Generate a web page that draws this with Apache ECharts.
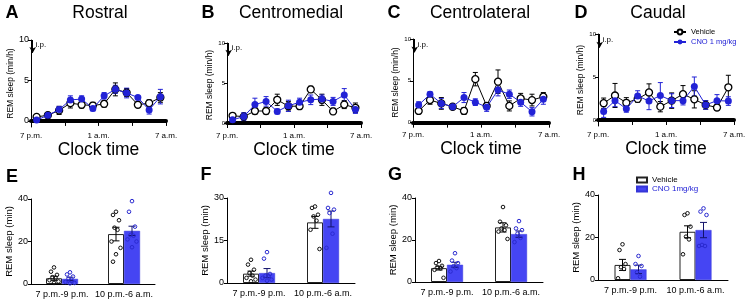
<!DOCTYPE html>
<html>
<head>
<meta charset="utf-8">
<script src="https://cdn.jsdelivr.net/npm/echarts@6/dist/echarts.min.js"></script>
<style>
html, body { margin: 0; padding: 0; background: #fff; }
#main { width: 747px; height: 303px; }
</style>
</head>
<body>
<div id="main"></div>
<script>
// hour bins (hours after 7 p.m.)
var hours = [0.5, 1.5, 2.5, 3.5, 4.5, 5.5, 6.5, 7.5, 8.5, 9.5, 10.5, 11.5];
var hourLabels = {0: "7 p.m.", 6: "1 a.m.", 12: "7 a.m."};
var regions = ["Rostral", "Centromedial", "Centrolateral", "Caudal"];
var periods = ["7 p.m.-9 p.m.", "10 p.m.-6 a.m."];

// hourly REM sleep (min/h), mean and sem
var rosVeh = [0.5, 0.7, 1.3, 2.2, 2.0, 1.9, 2.1, 3.9, 3.5, 2.0, 2.2, 2.9];
var rosVehErr = [0.2, 0.3, 0.5, 0.6, 0.4, 0.4, 0.4, 0.8, 0.5, 0.3, 0.4, 0.6];
var rosCno = [0.1, 0.7, 1.4, 2.6, 2.7, 1.55, 3.1, 3.9, 3.45, 2.9, 1.35, 3.0];
var rosCnoErr = [0.2, 0.3, 0.4, 0.5, 0.4, 0.3, 0.4, 0.5, 0.6, 0.2, 0.5, 0.9];

var cmVeh = [0.9, 0.8, 1.5, 1.5, 2.9, 2.1, 2.1, 4.2, 2.9, 1.45, 2.3, 1.9];
var cmVehErr = [0.2, 0.2, 0.4, 0.4, 0.7, 0.6, 0.4, 0.4, 0.7, 0.4, 0.5, 0.6];
var cmCno = [0.4, 0.8, 2.3, 2.7, 1.45, 2.15, 2.6, 2.9, 3.0, 2.7, 3.5, 1.7];
var cmCnoErr = [0.2, 0.5, 0.8, 0.6, 0.3, 0.7, 0.5, 0.6, 0.5, 0.5, 0.8, 0.5];

var clVeh = [1.4, 2.7, 2.3, 1.9, 1.4, 5.2, 2.0, 4.9, 2.0, 2.9, 2.7, 3.1];
var clVehErr = [0.3, 0.5, 0.7, 0.3, 0.4, 0.8, 0.4, 1.4, 0.6, 0.6, 0.7, 0.5];
var clCno = [2.1, 3.4, 2.3, 1.9, 3.0, 2.45, 1.85, 3.9, 3.4, 2.45, 1.3, 2.8];
var clCnoErr = [0.4, 0.3, 0.6, 0.3, 0.6, 0.4, 0.5, 0.7, 0.5, 0.5, 0.5, 0.6];

var caVeh = [1.95, 2.85, 2.0, 2.45, 3.2, 1.55, 2.25, 3.0, 2.4, 1.75, 1.45, 3.8];
var caVehErr = [0.6, 1.4, 0.6, 0.4, 1.0, 0.6, 0.9, 1.0, 1.0, 0.5, 0.3, 1.4];
var caCno = [1.0, 2.25, 1.3, 2.8, 2.2, 2.85, 2.25, 2.25, 3.9, 1.75, 2.25, 2.2];
var caCnoErr = [0.7, 0.7, 0.4, 0.6, 1.0, 1.5, 0.8, 0.5, 1.1, 0.5, 0.7, 0.5];

// period totals (min), mean / sem / single animals
var rosBarVeh = [2.7, 23.5], rosBarVehErr = [1.0, 3.2];
var rosBarCno = [2.4, 25.0], rosBarCnoErr = [0.8, 2.2];
var rosDotsVeh = [[7.8, 5.8, 4.3, 3.2, 2.8, 1.8, 1.2, 0.5], [34, 32.5, 30, 26.5, 25.5, 20, 17, 14, 10.5]];
var rosDotsCno = [[5.5, 4.5, 3.5, 2.5, 1.5, 1.0, 0.5, 0.3], [39, 34, 27, 23, 22.7, 21, 20, 17.3]];

var cmBarVeh = [3.3, 21.4], cmBarVehErr = [0.9, 2.1];
var cmBarCno = [3.5, 22.6], cmBarCnoErr = [1.6, 2.8];
var cmDotsVeh = [[8.2, 6.5, 4.7, 3.5, 2.6, 1.8, 1.2, 0.6], [27, 26.5, 24.1, 23.5, 22, 18.8, 12]];
var cmDotsCno = [[10.9, 8.6, 3.2, 2.6, 2.4, 1.8, 1.2, 0.8], [31.8, 26.5, 25.9, 24.7, 17.4, 12.4]];

var clBarVeh = [6.6, 26.0], clBarVehErr = [0.9, 2.2];
var clBarCno = [8.2, 22.8], clBarCnoErr = [1.2, 1.5];
var clDotsVeh = [[10, 9, 7.7, 7, 6.5, 5.8, 2], [35.7, 28.7, 27, 25.5, 24.7, 24, 20.5]];
var clDotsCno = [[13.7, 10.2, 9, 7.5, 6.6, 5], [29, 25.5, 24.7, 23, 21, 19]];

var caBarVeh = [7.1, 22.7], caBarVehErr = [2.6, 2.8];
var caBarCno = [5.0, 23.5], caBarCnoErr = [2.0, 3.6];
var caDotsVeh = [[16.8, 14.1, 7.5, 6, 5.2, 0.8], [31.4, 30.6, 25.1, 20.4, 19.1, 12.1]];
var caDotsCno = [[11.3, 7.5, 6.6, 3.6, 1.6], [33.7, 32.2, 30.6, 16.5, 16, 16]];

var FONT = '"Liberation Sans", Arial, sans-serif';
var BLUE = "#2222d6";
var BAR_BLUE = "#4545f3";
var JIT = [0, -3, 3, -1.5, 1.5, -4.5, 4.5, 0, -3, 3];

var topSets = [
	{veh: rosVeh, vehErr: rosVehErr, cno: rosCno, cnoErr: rosCnoErr},
	{veh: cmVeh, vehErr: cmVehErr, cno: cmCno, cnoErr: cmCnoErr},
	{veh: clVeh, vehErr: clVehErr, cno: clCno, cnoErr: clCnoErr},
	{veh: caVeh, vehErr: caVehErr, cno: caCno, cnoErr: caCnoErr}
];
var botSets = [
	{veh: rosBarVeh, vehErr: rosBarVehErr, cno: rosBarCno, cnoErr: rosBarCnoErr, dVeh: rosDotsVeh, dCno: rosDotsCno},
	{veh: cmBarVeh, vehErr: cmBarVehErr, cno: cmBarCno, cnoErr: cmBarCnoErr, dVeh: cmDotsVeh, dCno: cmDotsCno},
	{veh: clBarVeh, vehErr: clBarVehErr, cno: clBarCno, cnoErr: clBarCnoErr, dVeh: clDotsVeh, dCno: clDotsCno},
	{veh: caBarVeh, vehErr: caBarVehErr, cno: caBarCno, cnoErr: caBarCnoErr, dVeh: caDotsVeh, dCno: caDotsCno}
];

// layout of the panels
var topGrids = [
	{left: 31, top: 40, width: 135, height: 87, ymin: -0.75, tickFont: 9, nameGap: 13, letter: "A", lx: 12, tx: 100},
	{left: 227, top: 43, width: 134, height: 84, ymin: -0.5, tickFont: 6, nameGap: 11, letter: "B", lx: 208, tx: 291},
	{left: 413, top: 39, width: 136, height: 87, ymin: -0.4, tickFont: 6, nameGap: 11, letter: "C", lx: 394, tx: 480},
	{left: 598, top: 34, width: 136, height: 92, ymin: -0.7, tickFont: 6, nameGap: 11, letter: "D", lx: 581, tx: 658}
];
var botGrids = [
	{left: 31, top: 199, width: 124, height: 85, max: 40, interval: 20, letter: "E", lx: 12, ly: 177},
	{left: 227, top: 198, width: 128, height: 85, max: 30, interval: 15, letter: "F", lx: 206, ly: 175},
	{left: 415, top: 198, width: 128, height: 84, max: 40, interval: 20, letter: "G", lx: 395, ly: 175},
	{left: 598, top: 195, width: 130, height: 85, max: 40, interval: 20, letter: "H", lx: 579, ly: 175}
];

function lineErrItem(params, api) {
	var x = api.value(0), y = api.value(1), e = api.value(2),
		hi = api.coord([x, y + e]),
		lo = api.coord([x, y - e]),
		st = {stroke: api.visual("color"), lineWidth: 1};
	return {
		type: "group",
		children: [
			{type: "line", shape: {x1: hi[0], y1: hi[1], x2: lo[0], y2: lo[1]}, style: st},
			{type: "line", shape: {x1: hi[0] - 2.5, y1: hi[1], x2: hi[0] + 2.5, y2: hi[1]}, style: st},
			{type: "line", shape: {x1: lo[0] - 2.5, y1: lo[1], x2: lo[0] + 2.5, y2: lo[1]}, style: st}
		]
	};
}

function barErrItem(barW) {
	return function(params, api) {
		var x = api.value(0), y = api.value(1), e = api.value(2), side = api.value(3),
			hi = api.coord([x, y + e]),
			lo = api.coord([x, y - e]),
			cx = hi[0] + side * barW / 2,
			st = {stroke: api.visual("color"), lineWidth: 1};
		return {
			type: "group",
			children: [
				{type: "line", shape: {x1: cx, y1: hi[1], x2: cx, y2: lo[1]}, style: st},
				{type: "line", shape: {x1: cx - 3.5, y1: hi[1], x2: cx + 3.5, y2: hi[1]}, style: st},
				{type: "line", shape: {x1: cx - 3.5, y1: lo[1], x2: cx + 3.5, y2: lo[1]}, style: st}
			]
		};
	};
}

function dotItem(barW) {
	return function(params, api) {
		var p = api.coord([api.value(0), api.value(1)]),
			cx = p[0] + api.value(2) * barW / 2 + JIT[api.value(3) % JIT.length];
		return {
			type: "circle",
			shape: {cx: cx, cy: p[1], r: 1.8},
			style: {fill: "none", stroke: api.visual("color"), lineWidth: 1}
		};
	};
}

var opt = {
	animation: false,
	backgroundColor: "#fff",
	textStyle: {fontFamily: FONT},
	grid: [],
	xAxis: [],
	yAxis: [],
	series: [],
	graphic: [],
	legend: [
		{
			left: 668, top: 23, orient: "vertical",
			itemWidth: 12, itemHeight: 6, itemGap: 2,
			textStyle: {fontSize: 7.5, fontFamily: FONT},
			data: [
				{name: "Vehicle", textStyle: {color: "#000"}},
				{name: "CNO 1 mg/kg", textStyle: {color: BLUE}}
			]
		},
		{
			left: 631, top: 171, orient: "vertical",
			itemWidth: 10, itemHeight: 5, itemGap: 1,
			textStyle: {fontSize: 8, fontFamily: FONT},
			data: [
				{name: "Vehicle ", icon: "rect", textStyle: {color: "#000"}},
				{name: "CNO 1mg/kg", icon: "rect", textStyle: {color: BLUE}}
			]
		}
	]
};

// top row: hourly time course
topGrids.forEach(function(g, i) {
	var d = topSets[i],
		gi = opt.grid.length,
		xi = opt.xAxis.length,
		yi = opt.yAxis.length;

	opt.grid.push({left: g.left, top: g.top, width: g.width, height: g.height, outerBoundsMode: "none"});
	opt.xAxis.push({
		type: "value", gridIndex: gi, min: 0, max: 12, interval: 3,
		name: "Clock time", nameLocation: "middle", nameGap: 11,
		nameTextStyle: {fontSize: 17.5, color: "#000"},
		axisLine: {lineStyle: {color: "#000", width: 4}},
		axisTick: {length: 5, lineStyle: {color: "#000", width: 1}},
		axisLabel: {
			fontSize: 8, color: "#000", margin: 5, showMinLabel: true, showMaxLabel: true,
			formatter: function(v) { return hourLabels[v] || ""; }
		},
		splitLine: {show: false}
	});
	opt.yAxis.push({
		type: "value", gridIndex: gi, min: g.ymin, max: 10,
		name: "REM sleep (min/h)", nameLocation: "middle", nameGap: g.nameGap,
		nameTextStyle: {fontSize: 8.5, color: "#000"},
		axisLine: {show: true, lineStyle: {color: "#000", width: 1}},
		axisTick: {show: true, length: 3, customValues: [0, 5, 10], lineStyle: {color: "#000"}},
		axisLabel: {fontSize: g.tickFont, color: "#000", margin: 2, customValues: [0, 5, 10]},
		splitLine: {show: false}
	});

	opt.series.push({
		type: "custom", xAxisIndex: xi, yAxisIndex: yi, z: 1,
		itemStyle: {color: "#000"}, renderItem: lineErrItem,
		data: hours.map(function(h, k) { return [h, d.veh[k], d.vehErr[k]]; })
	});
	opt.series.push({
		type: "custom", xAxisIndex: xi, yAxisIndex: yi, z: 1,
		itemStyle: {color: BLUE}, renderItem: lineErrItem,
		data: hours.map(function(h, k) { return [h, d.cno[k], d.cnoErr[k]]; })
	});
	opt.series.push({
		name: "Vehicle", type: "line", xAxisIndex: xi, yAxisIndex: yi, z: 3,
		symbol: "circle", symbolSize: 7,
		itemStyle: {color: "#fff", borderColor: "#000", borderWidth: 1.3},
		lineStyle: {color: "#000", width: 1},
		data: hours.map(function(h, k) { return [h, d.veh[k]]; }),
		markLine: {
			silent: true, symbol: ["none", "arrow"], symbolSize: [5, 6],
			lineStyle: {color: "#000", width: 1, type: "solid"},
			label: {show: false},
			data: [[{coord: [0.15, 10]}, {coord: [0.15, 8.4]}]]
		},
		markPoint: {
			silent: true, symbol: "circle", symbolSize: 0.1,
			itemStyle: {color: "rgba(0,0,0,0)"},
			label: {show: true, position: "right", distance: 0, formatter: "i.p.", fontSize: 8, color: "#000"},
			data: [{coord: [0.4, 9.35]}]
		}
	});
	opt.series.push({
		name: "CNO 1 mg/kg", type: "line", xAxisIndex: xi, yAxisIndex: yi, z: 4,
		symbol: "circle", symbolSize: 7,
		itemStyle: {color: BLUE},
		lineStyle: {color: BLUE, width: 1},
		data: hours.map(function(h, k) { return [h, d.cno[k]]; })
	});

	opt.graphic.push({
		type: "text", x: g.lx, y: 13,
		style: {text: g.letter, font: "bold 18px " + FONT, fill: "#000", align: "center", verticalAlign: "middle"}
	});
	opt.graphic.push({
		type: "text", x: g.tx, y: 13,
		style: {text: regions[i], font: "17.5px " + FONT, fill: "#000", align: "center", verticalAlign: "middle"}
	});
});

// bottom row: period totals
botGrids.forEach(function(g, i) {
	var d = botSets[i],
		gi = opt.grid.length,
		ci = opt.xAxis.length,
		vi = ci + 1,
		yi = opt.yAxis.length,
		barW = 16;

	opt.grid.push({left: g.left, top: g.top, width: g.width, height: g.height, outerBoundsMode: "none"});
	opt.xAxis.push({
		type: "category", gridIndex: gi, data: periods,
		axisLine: {lineStyle: {color: "#000", width: 1}},
		axisTick: {alignWithLabel: true, length: 3, lineStyle: {color: "#000"}},
		axisLabel: {fontSize: 9, color: "#000", margin: 6, interval: 0}
	});
	opt.xAxis.push({type: "value", gridIndex: gi, min: 0, max: 2, show: false});
	opt.yAxis.push({
		type: "value", gridIndex: gi, min: 0, max: g.max, interval: g.interval,
		name: "REM sleep (min)", nameLocation: "middle", nameGap: 16,
		nameTextStyle: {fontSize: 9.5, color: "#000"},
		axisLine: {show: true, lineStyle: {color: "#000", width: 1}},
		axisTick: {show: true, length: 3, lineStyle: {color: "#000"}},
		axisLabel: {fontSize: 9, color: "#000", margin: 3},
		splitLine: {show: false}
	});

	opt.series.push({
		name: "Vehicle ", type: "bar", xAxisIndex: ci, yAxisIndex: yi,
		barWidth: barW, barGap: "0%",
		itemStyle: {color: "#fff", borderColor: "#222", borderWidth: 1},
		data: d.veh
	});
	opt.series.push({
		name: "CNO 1mg/kg", type: "bar", xAxisIndex: ci, yAxisIndex: yi,
		barWidth: barW, barGap: "0%",
		itemStyle: {color: BAR_BLUE, borderColor: "#3535d8", borderWidth: 0.5},
		data: d.cno
	});

	var dotsV = [], dotsC = [];
	d.dVeh.forEach(function(list, c) {
		list.forEach(function(v, k) { dotsV.push([c + 0.5, v, -1, k]); });
	});
	d.dCno.forEach(function(list, c) {
		list.forEach(function(v, k) { dotsC.push([c + 0.5, v, 1, k]); });
	});

	opt.series.push({
		type: "custom", xAxisIndex: vi, yAxisIndex: yi, z: 5,
		itemStyle: {color: "#000"}, renderItem: barErrItem(barW),
		data: d.veh.map(function(v, c) { return [c + 0.5, v, d.vehErr[c], -1]; })
	});
	opt.series.push({
		type: "custom", xAxisIndex: vi, yAxisIndex: yi, z: 5,
		itemStyle: {color: "#12126a"}, renderItem: barErrItem(barW),
		data: d.cno.map(function(v, c) { return [c + 0.5, v, d.cnoErr[c], 1]; })
	});
	opt.series.push({
		type: "custom", xAxisIndex: vi, yAxisIndex: yi, z: 6,
		itemStyle: {color: "#111"}, renderItem: dotItem(barW),
		data: dotsV
	});
	opt.series.push({
		type: "custom", xAxisIndex: vi, yAxisIndex: yi, z: 6,
		itemStyle: {color: "#2a2ad0"}, renderItem: dotItem(barW),
		data: dotsC
	});

	opt.graphic.push({
		type: "text", x: g.lx, y: g.ly,
		style: {text: g.letter, font: "bold 18px " + FONT, fill: "#000", align: "center", verticalAlign: "middle"}
	});
});

var chart = echarts.init(document.getElementById("main"), null, {renderer: "canvas"});
chart.setOption(opt);
</script>
</body>
</html>
